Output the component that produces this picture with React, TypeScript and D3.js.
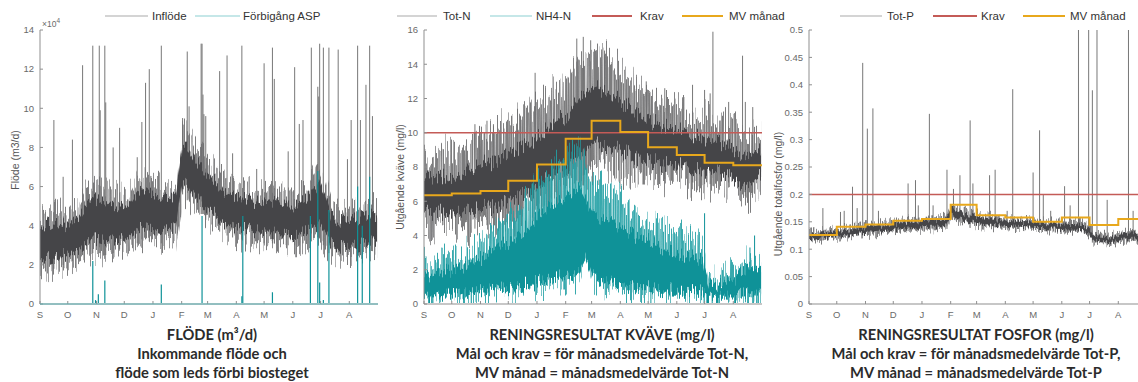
import React from 'react';
import * as d3 from 'd3';

// ---------- shared axis data ----------
const monthLabels = ['S', 'O', 'N', 'D', 'J', 'F', 'M', 'A', 'M', 'J', 'J', 'A'];
const monthStartDays = [0, 30, 61, 91, 122, 153, 181, 212, 242, 273, 303, 334];
const yearDays = 365;
const sampleStepDays = 7;

// ---------- FLÖDE (x10^4 m3/d), weekly envelope ----------
const flowLow = [1.8, 1.7, 1.8, 1.9, 2.0, 2.2, 2.3, 2.5, 2.6, 2.6, 2.5, 2.6, 2.8, 2.7, 2.9, 3.1, 3.3, 3.2, 3.2, 3.1, 3.2, 3.3, 5.6, 5.3, 4.9, 4.6, 4.3, 4.0, 3.7, 3.5, 3.4, 3.3, 3.3, 3.2, 3.2, 3.1, 3.1, 3.0, 3.0, 3.0, 3.0, 3.1, 3.2, 3.4, 3.0, 2.6, 2.5, 2.4, 2.4, 2.5, 2.6, 2.7, 2.8];
const flowHigh = [4.6, 4.7, 4.9, 4.8, 4.6, 5.0, 5.2, 5.8, 6.0, 6.2, 6.0, 5.6, 5.7, 5.5, 5.8, 6.4, 6.6, 6.4, 6.2, 6.0, 5.9, 6.0, 8.9, 8.6, 8.0, 7.7, 7.3, 6.9, 6.5, 6.3, 6.2, 6.0, 5.9, 5.8, 5.7, 5.8, 5.9, 5.8, 5.6, 5.6, 5.7, 5.9, 6.4, 7.0, 6.2, 5.0, 4.8, 4.7, 4.8, 4.9, 5.0, 5.1, 5.0];
const flowSpikes: [number, number][] = [
  [15, 9.4], [25, 6.5], [35, 8.4], [46, 12.2], [57, 13.2], [64, 13.2], [65, 9.9], [70, 13.2], [71, 10.3],
  [79, 8.0], [86, 9.0], [105, 7.5], [110, 9.3], [114, 11.3], [118, 12.0], [131, 13.2], [154, 9.5], [159, 12.9],
  [161, 10.1], [174, 13.3], [175, 13.3], [176, 10.7], [177, 9.7], [179, 9.6], [194, 11.9], [202, 12.7], [208, 7.7],
  [218, 13.2], [234, 6.9], [242, 12.3], [251, 13.1], [253, 11.5], [268, 7.8], [275, 12.1], [280, 9.2], [284, 9.4],
  [293, 13.1], [300, 11.1], [301, 10.6], [302, 13.3], [306, 13.1], [312, 13.1], [322, 13.0], [332, 7.4], [336, 9.4],
  [343, 13.2], [346, 9.4], [352, 11.2], [356, 13.2], [359, 9.6],
];
const bypassSpikes: [number, number][] = [
  [57, 2.2], [60, 0.2], [63, 0.5], [70, 1.2], [131, 1.0], [175, 4.5], [218, 0.4], [219, 4.5], [251, 0.6],
  [292, 4.5], [300, 6.8], [302, 1.1], [306, 0.2], [312, 4.8], [343, 6.0], [348, 4.0], [356, 6.5],
];
const flowTicks = [0, 2, 4, 6, 8, 10, 12, 14];

// ---------- KVÄVE (mg/l) ----------
const totNLow = [4.6, 4.3, 4.4, 4.5, 4.5, 4.4, 4.5, 4.3, 4.4, 4.5, 4.6, 4.4, 4.7, 4.8, 5.0, 5.2, 5.3, 5.5, 5.8, 6.0, 6.3, 6.5, 6.8, 7.0, 7.2, 7.5, 8.0, 8.0, 7.9, 7.8, 7.8, 7.7, 7.6, 7.5, 7.5, 7.4, 7.3, 7.3, 7.2, 7.2, 7.3, 7.1, 7.0, 7.0, 7.0, 6.9, 6.8, 6.8, 6.5, 6.4, 6.3, 6.5, 6.8];
const totNHigh = [8.4, 8.8, 8.6, 9.0, 8.7, 8.8, 9.1, 9.3, 9.6, 10.0, 9.8, 10.2, 10.4, 10.6, 10.8, 11.3, 11.0, 11.6, 11.8, 12.1, 12.6, 12.8, 13.0, 13.6, 14.2, 14.5, 14.7, 14.9, 14.5, 14.2, 13.8, 13.6, 13.3, 12.8, 12.6, 12.3, 12.0, 11.8, 11.8, 11.6, 11.4, 11.3, 11.1, 11.0, 10.8, 10.6, 10.6, 10.3, 10.2, 10.0, 9.8, 10.0, 9.8];
const nh4Low = [0.5, 0.4, 0.4, 0.5, 0.5, 0.5, 0.6, 0.5, 0.6, 0.6, 0.7, 0.6, 0.7, 0.7, 0.8, 0.8, 0.9, 0.9, 1.0, 1.0, 1.1, 1.2, 1.2, 1.3, 1.5, 2.5, 1.5, 1.2, 1.0, 0.9, 0.9, 0.8, 0.8, 0.7, 0.7, 0.7, 0.7, 0.6, 0.6, 0.6, 0.6, 0.6, 0.6, 0.5, 0.3, 0.3, 0.3, 0.3, 0.3, 0.4, 0.4, 0.5, 0.5];
const nh4High = [2.6, 2.3, 2.5, 2.8, 2.6, 2.8, 3.0, 3.2, 3.5, 3.6, 4.0, 4.3, 4.8, 5.0, 5.4, 5.8, 6.2, 6.8, 7.2, 7.6, 8.0, 8.3, 8.6, 9.0, 9.4, 7.8, 7.2, 7.0, 6.8, 6.5, 6.3, 6.0, 5.7, 5.4, 5.2, 5.0, 4.8, 4.5, 4.3, 4.2, 4.0, 3.8, 3.6, 3.4, 1.6, 1.4, 1.5, 1.8, 2.0, 2.4, 2.6, 2.8, 2.5];
const totNSpikes: [number, number][] = [
  [55, 10.5], [60, 10.4], [68, 10.7], [75, 10.5], [101, 11.4], [104, 11.0], [120, 13.5], [165, 15.5], [172, 15.6],
  [180, 15.4], [195, 14.8], [210, 14.2], [240, 13.0], [260, 12.6], [290, 12.8], [303, 12.5], [309, 12.3],
  [312, 15.9], [329, 11.8], [344, 14.5], [347, 11.8], [355, 11.5],
];
const nh4Spikes: [number, number][] = [[303, 5.3], [352, 3.3], [357, 4.0]];
const totNMonthlyMean = [6.35, 6.45, 6.6, 7.2, 8.15, 9.65, 10.7, 10.05, 9.15, 8.7, 8.25, 8.1];
const totNLimit = 10;
const nTicks = [0, 2, 4, 6, 8, 10, 12, 14, 16];

// ---------- FOSFOR (mg/l) ----------
const totPLow = [0.115, 0.114, 0.116, 0.118, 0.120, 0.122, 0.123, 0.124, 0.125, 0.126, 0.127, 0.128, 0.130, 0.131, 0.132, 0.133, 0.134, 0.135, 0.136, 0.136, 0.137, 0.137, 0.158, 0.152, 0.148, 0.146, 0.143, 0.141, 0.140, 0.140, 0.139, 0.138, 0.137, 0.137, 0.136, 0.135, 0.135, 0.134, 0.134, 0.133, 0.132, 0.132, 0.131, 0.125, 0.112, 0.111, 0.111, 0.112, 0.113, 0.114, 0.115, 0.116, 0.115];
const totPHigh = [0.132, 0.133, 0.135, 0.136, 0.138, 0.140, 0.141, 0.143, 0.145, 0.146, 0.147, 0.149, 0.150, 0.152, 0.153, 0.155, 0.157, 0.158, 0.159, 0.160, 0.160, 0.161, 0.184, 0.178, 0.172, 0.170, 0.167, 0.165, 0.163, 0.160, 0.158, 0.157, 0.156, 0.155, 0.155, 0.154, 0.153, 0.153, 0.152, 0.153, 0.152, 0.152, 0.150, 0.145, 0.130, 0.128, 0.128, 0.130, 0.132, 0.134, 0.135, 0.136, 0.135];
const totPSpikes: [number, number][] = [
  [15, 0.175], [34, 0.168], [38, 0.17], [47, 0.214], [52, 0.175], [58, 0.44], [63, 0.32], [69, 0.357], [75, 0.17],
  [107, 0.22], [115, 0.226], [118, 0.18], [130, 0.347], [134, 0.18], [149, 0.245], [156, 0.21], [163, 0.235],
  [174, 0.335], [177, 0.22], [195, 0.235], [201, 0.245], [214, 0.17], [220, 0.392], [242, 0.24], [249, 0.317],
  [253, 0.2], [261, 0.17], [276, 0.215], [282, 0.18], [291, 0.5], [302, 0.5], [306, 0.39], [311, 0.5],
  [322, 0.19], [345, 0.5], [350, 0.17],
];
const totPMonthlyMean = [0.126, 0.141, 0.145, 0.152, 0.155, 0.181, 0.162, 0.158, 0.150, 0.158, 0.144, 0.155];
const totPLimit = 0.2;
const pTicks = [0, 0.05, 0.1, 0.15, 0.2, 0.25, 0.3, 0.35, 0.4, 0.45, 0.5];

// ---------- styling ----------
const W = 1138;
const H = 382;
const PLOT_W = 338;
const Y_TOP = 30;
const Y_BOT = 304;
const AXIS = '#8f8f8f';
const TICK_TEXT = '#6a6a6a';
const GRAY_OUT = '#6e6e70';
const GRAY_CORE = '#454548';
const TEAL_OUT = '#23a0a5';
const TEAL_CORE = '#0f9298';
const RED = '#c45b57';
const GOLD = '#e8a81c';
const SANS = '"Liberation Sans", Arial, sans-serif';
const TITLE_FONT = 'Lato, "Open Sans", sans-serif';

type Scale = d3.ScaleLinear<number, number>;

// visual texture: vertical jitter of band edges + streaky transparency (styling only)
function Jitter({ id, seed, scale, streak }: { id: string; seed: number; scale: number; streak: boolean }) {
  return (
    <filter id={id} x="-2%" y="-40%" width="104%" height="180%" colorInterpolationFilters="sRGB">
      <feTurbulence type="fractalNoise" baseFrequency="0.75 0.002" numOctaves={2} seed={seed} result="n" />
      <feColorMatrix in="n" type="matrix" values="2.2 0 0 0 -0.6  0 0 0 0 0.5  0 0 0 0 0  0 0 0 0 1" result="nd" />
      <feDisplacementMap in="SourceGraphic" in2="nd" scale={scale} xChannelSelector="G" yChannelSelector="R" result="d" />
      {streak ? (
        <>
          <feTurbulence type="fractalNoise" baseFrequency="0.9 0.008" numOctaves={1} seed={seed + 11} result="s" />
          <feColorMatrix in="s" type="matrix" values="0 0 0 0 0  0 0 0 0 0  0 0 0 0 0  2.4 0 0 0 -0.35" result="sa" />
          <feComposite in="d" in2="sa" operator="in" />
        </>
      ) : null}
    </filter>
  );
}

function Band({ x, y, low, high, outer, core, f0, f1, fOuter, fCore, outerOpacity = 0.9 }: { x: Scale; y: Scale; low: number[]; high: number[]; outer: string; core: string; f0: number; f1: number; fOuter: string; fCore: string; outerOpacity?: number }) {
  const idx = low.map((_, i) => i);
  const outerArea = d3.area<number>()
    .x((i) => x(i * sampleStepDays))
    .y0((i) => y(low[i]))
    .y1((i) => y(high[i]));
  const coreArea = d3.area<number>()
    .x((i) => x(i * sampleStepDays))
    .y0((i) => y(low[i] + (high[i] - low[i]) * f0))
    .y1((i) => y(low[i] + (high[i] - low[i]) * f1));
  return (
    <g>
      <path d={outerArea(idx) || ''} fill={outer} opacity={outerOpacity} filter={`url(#${fOuter})`} />
      <path d={coreArea(idx) || ''} fill={core} filter={`url(#${fCore})`} />
    </g>
  );
}

function Spikes({ x, y, spikes, base, color, width = 1 }: { x: Scale; y: Scale; spikes: [number, number][]; base: (d: number) => number; color: string; width?: number }) {
  return (
    <g>
      {spikes.map(([d, v], k) => (
        <line key={k} x1={x(d)} x2={x(d)} y1={y(base(d))} y2={y(v)} stroke={color} strokeWidth={width} />
      ))}
    </g>
  );
}

function StepMean({ x, y, means, color }: { x: Scale; y: Scale; means: number[]; color: string }) {
  const pts: [number, number][] = monthStartDays.map((d, i) => [d, means[i]]);
  pts.push([yearDays, means[means.length - 1]]);
  const line = d3.line<[number, number]>().x((p) => x(p[0])).y((p) => y(p[1])).curve(d3.curveStepAfter);
  return <path d={line(pts) || ''} fill="none" stroke={color} strokeWidth={2} />;
}

function Axes({ x, y, ticks, fmt }: { x: Scale; y: Scale; ticks: number[]; fmt: (v: number) => string }) {
  const [x0] = x.range();
  const x1 = x(yearDays);
  const yMax = y.domain()[1];
  return (
    <g fontFamily={SANS}>
      <line x1={x0} x2={x0} y1={y(yMax)} y2={y(0)} stroke={AXIS} strokeWidth={1} />
      <line x1={x0} x2={x1} y1={y(0)} y2={y(0)} stroke={AXIS} strokeWidth={1} />
      {ticks.map((t) => (
        <g key={t}>
          <line x1={x0} x2={x0 + 3} y1={y(t)} y2={y(t)} stroke={AXIS} />
          <text x={x0 - 6} y={y(t)} dy="0.35em" textAnchor="end" fontSize={9.5} fill={TICK_TEXT}>{fmt(t)}</text>
        </g>
      ))}
      {monthStartDays.map((d, i) => (
        <g key={i}>
          <line x1={x(d)} x2={x(d)} y1={y(0)} y2={y(0) - 3} stroke={AXIS} />
          <text x={x(d)} y={y(0) + 14} textAnchor="middle" fontSize={9.5} fill={TICK_TEXT}>{monthLabels[i]}</text>
        </g>
      ))}
    </g>
  );
}

type LegendItem = { label: string; color: string; x1: number; x2: number; tx: number; w: number };
function Legend({ items }: { items: LegendItem[] }) {
  return (
    <g fontFamily={SANS} fontSize={11.5} fill="#333">
      {items.map((it) => (
        <g key={it.label}>
          <line x1={it.x1} x2={it.x2} y1={16} y2={16} stroke={it.color} strokeWidth={it.w} />
          <text x={it.tx} y={16} dy="0.35em">{it.label}</text>
        </g>
      ))}
    </g>
  );
}

function Title({ cx, lines }: { cx: number; lines: string[] }) {
  const ys = [340, 359, 378];
  return (
    <g fontFamily={TITLE_FONT} fontWeight="bold" fontSize={14.7} fill="#2b2b2b" textAnchor="middle">
      {lines.map((l, i) => (
        <text key={i} x={cx} y={ys[i]}>{l}</text>
      ))}
    </g>
  );
}

function lookup(arr: number[]) {
  return (d: number) => arr[Math.max(0, Math.min(arr.length - 1, Math.round(d / sampleStepDays)))];
}

export default function App() {
  const xF = d3.scaleLinear().domain([0, yearDays]).range([40, 40 + PLOT_W]);
  const yF = d3.scaleLinear().domain([0, 14]).range([Y_BOT, Y_TOP]);
  const xN = d3.scaleLinear().domain([0, yearDays]).range([424, 424 + PLOT_W]);
  const yN = d3.scaleLinear().domain([0, 16]).range([Y_BOT, Y_TOP]);
  const xP = d3.scaleLinear().domain([0, yearDays]).range([809, 809 + PLOT_W]);
  const yP = d3.scaleLinear().domain([0, 0.5]).range([Y_BOT, Y_TOP]);

  const fmtInt = (v: number) => String(v);
  const fmtP = (v: number) => String(+v.toFixed(2));

  return (
    <svg width={W} height={H} style={{ position: 'absolute', left: 0, top: 0, background: '#fff' }}>
      <defs>
        <clipPath id="c1"><rect x={40} y={Y_TOP - 1} width={PLOT_W} height={Y_BOT - Y_TOP} /></clipPath>
        <clipPath id="c2"><rect x={424} y={Y_TOP - 1} width={PLOT_W} height={Y_BOT - Y_TOP} /></clipPath>
        <clipPath id="c3"><rect x={809} y={Y_TOP - 1} width={PLOT_W} height={Y_BOT - Y_TOP} /></clipPath>
        <Jitter id="jFo" seed={2} scale={26} streak={true} />
        <Jitter id="jFc" seed={5} scale={14} streak={false} />
        <Jitter id="jNo" seed={8} scale={36} streak={true} />
        <Jitter id="jNc" seed={13} scale={18} streak={false} />
        <Jitter id="jAo" seed={21} scale={30} streak={true} />
        <Jitter id="jAc" seed={29} scale={16} streak={false} />
        <Jitter id="jPo" seed={33} scale={9} streak={true} />
        <Jitter id="jPc" seed={41} scale={5} streak={false} />
      </defs>
      <rect width={W} height={H} fill="#fff" />

      {/* ---------- Panel 1: flow ---------- */}
      <g clipPath="url(#c1)">
        <Spikes x={xF} y={yF} spikes={flowSpikes} base={lookup(flowLow)} color="#777" />
        <Band x={xF} y={yF} low={flowLow} high={flowHigh} outer={GRAY_OUT} core={GRAY_CORE} f0={0.2} f1={0.78} fOuter="jFo" fCore="jFc" />
        <Spikes x={xF} y={yF} spikes={bypassSpikes} base={() => 0} color={TEAL_CORE} width={1.2} />
      </g>
      <Axes x={xF} y={yF} ticks={flowTicks} fmt={fmtInt} />
      <line x1={xF(0)} x2={xF(yearDays)} y1={yF(0)} y2={yF(0)} stroke="#5fb6b9" strokeWidth={1} />
      <text x={42} y={27} fontFamily={SANS} fontSize={8.5} fill={TICK_TEXT}>×10<tspan fontSize={6.5} dy={-4}>4</tspan></text>
      <text transform="translate(15,160) rotate(-90)" textAnchor="middle" dy="0.35em" fontFamily={SANS} fontSize={10.5} fill="#555">Flöde (m3/d)</text>
      <Legend items={[
        { label: 'Inflöde', color: '#a9a9a9', x1: 105, x2: 148, tx: 152, w: 1.2 },
        { label: 'Förbigång ASP', color: '#8ccfd2', x1: 195, x2: 240, tx: 243, w: 1.2 },
      ]} />
      <Title cx={212} lines={['FLÖDE (m³/d)', 'Inkommande flöde och', 'flöde som leds förbi biosteget']} />

      {/* ---------- Panel 2: nitrogen ---------- */}
      <g clipPath="url(#c2)">
        <Spikes x={xN} y={yN} spikes={totNSpikes} base={lookup(totNLow)} color="#777" />
        <Band x={xN} y={yN} low={totNLow} high={totNHigh} outer={GRAY_OUT} core={GRAY_CORE} f0={0.2} f1={0.68} fOuter="jNo" fCore="jNc" />
        <Spikes x={xN} y={yN} spikes={nh4Spikes} base={lookup(nh4Low)} color={TEAL_CORE} />
        <Band x={xN} y={yN} low={nh4Low} high={nh4High} outer={TEAL_OUT} core={TEAL_CORE} f0={0.05} f1={0.68} fOuter="jAo" fCore="jAc" />
        <line x1={xN(0)} x2={xN(yearDays)} y1={yN(totNLimit)} y2={yN(totNLimit)} stroke={RED} strokeWidth={1.5} />
        <StepMean x={xN} y={yN} means={totNMonthlyMean} color={GOLD} />
      </g>
      <Axes x={xN} y={yN} ticks={nTicks} fmt={fmtInt} />
      <text transform="translate(400,177) rotate(-90)" textAnchor="middle" dy="0.35em" fontFamily={SANS} fontSize={10.5} fill="#555">Utgående kväve (mg/l)</text>
      <Legend items={[
        { label: 'Tot-N', color: '#a9a9a9', x1: 397, x2: 437, tx: 443, w: 1.2 },
        { label: 'NH4-N', color: '#8ccfd2', x1: 490, x2: 532, tx: 536, w: 1.2 },
        { label: 'Krav', color: RED, x1: 592, x2: 632, tx: 640, w: 2 },
        { label: 'MV månad', color: GOLD, x1: 682, x2: 723, tx: 729, w: 2 },
      ]} />
      <Title cx={602} lines={['RENINGSRESULTAT KVÄVE (mg/l)', 'Mål och krav = för månadsmedelvärde Tot-N,', 'MV månad = månadsmedelvärde Tot-N']} />

      {/* ---------- Panel 3: phosphorus ---------- */}
      <g clipPath="url(#c3)">
        <Spikes x={xP} y={yP} spikes={totPSpikes} base={lookup(totPLow)} color="#777" />
        <Band x={xP} y={yP} low={totPLow} high={totPHigh} outer={GRAY_OUT} core={GRAY_CORE} f0={0.2} f1={0.7} fOuter="jPo" fCore="jPc" />
        <line x1={xP(0)} x2={xP(yearDays)} y1={yP(totPLimit)} y2={yP(totPLimit)} stroke={RED} strokeWidth={1.5} />
        <StepMean x={xP} y={yP} means={totPMonthlyMean} color={GOLD} />
      </g>
      <Axes x={xP} y={yP} ticks={pTicks} fmt={fmtP} />
      <text transform="translate(778,194) rotate(-90)" textAnchor="middle" dy="0.35em" fontFamily={SANS} fontSize={10.5} fill="#555">Utgående totalfosfor (mg/l)</text>
      <Legend items={[
        { label: 'Tot-P', color: '#a9a9a9', x1: 840, x2: 882, tx: 887, w: 1.2 },
        { label: 'Krav', color: RED, x1: 933, x2: 977, tx: 981, w: 2 },
        { label: 'MV månad', color: GOLD, x1: 1023, x2: 1065, tx: 1070, w: 2 },
      ]} />
      <Title cx={976} lines={['RENINGSRESULTAT FOSFOR (mg/l)', 'Mål och krav = för månadsmedelvärde Tot-P,', 'MV månad = månadsmedelvärde Tot-P']} />
    </svg>
  );
}
